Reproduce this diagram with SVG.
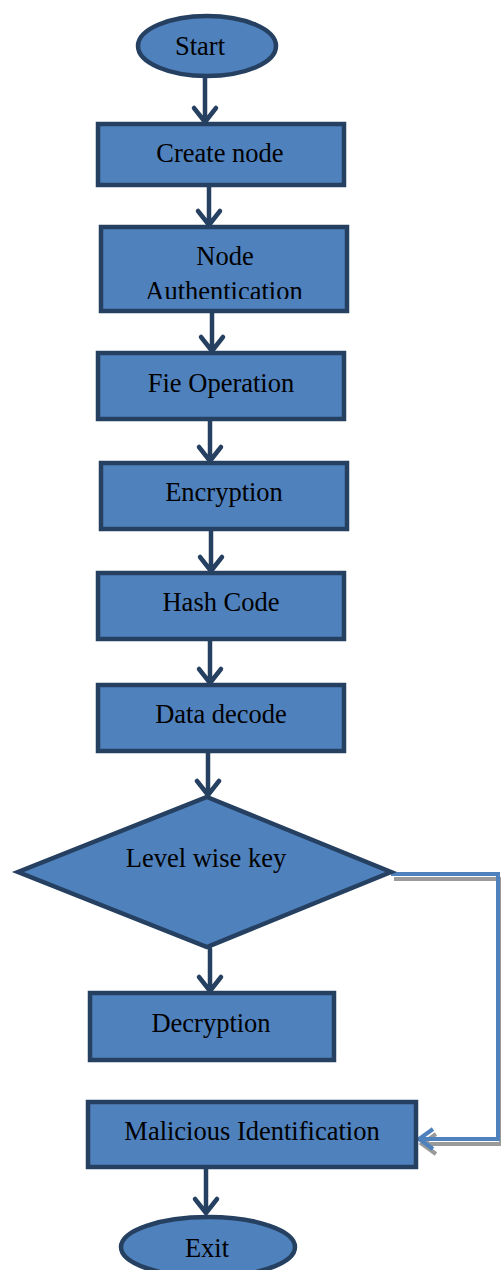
<svg xmlns="http://www.w3.org/2000/svg" width="501" height="1270" viewBox="0 0 501 1270">
<defs>
<style>
.shape{fill:#4F81BD;stroke:#254061;stroke-width:4.5}
.lbl{font-family:"Liberation Serif","Times New Roman",serif;font-size:26.5px;fill:#000;text-anchor:middle}
.arr{fill:none;stroke:#254061;stroke-width:4.5;stroke-linecap:round;stroke-linejoin:round}
</style>
<clipPath id="clipAuth"><rect x="101" y="227" width="246" height="72"/></clipPath>
</defs>
<rect width="501" height="1270" fill="#fff"/>
<g id="connectors">
<path class="arr" d="M205,78V122M194,108L205,122L216,108"/>
<path class="arr" d="M209,187V225M198,211L209,225L220,211"/>
<path class="arr" d="M212,313V351M201,337L212,351L223,337"/>
<path class="arr" d="M210,421V461M199,447L210,461L221,447"/>
<path class="arr" d="M211,531V571M200,557L211,571L222,557"/>
<path class="arr" d="M210,641V683M199,669L210,683L221,669"/>
<path class="arr" d="M208,753V795M197,781L208,795L219,781"/>
<path class="arr" d="M210,949V991M199,977L210,991L221,977"/>
<path class="arr" d="M206,1169V1213M195,1199L206,1213L217,1199"/>
<g id="feedback">
<path d="M393,877H500V1142H421M435,1132L421,1142L435,1152" fill="none" stroke="#9a9a9a" stroke-width="4" transform="translate(1,2)"/>
<path d="M391,874H498V1139H419M433,1129L419,1139L433,1149" fill="none" stroke="#4F81BD" stroke-width="4" stroke-linejoin="miter"/>
</g>
</g>
<g id="start"><ellipse class="shape" cx="207" cy="46" rx="69" ry="30"/><text class="lbl" x="200" y="55">Start</text></g>
<g id="create-node"><rect class="shape" x="98" y="124" width="246" height="61"/><text class="lbl" x="220" y="162">Create node</text></g>
<g id="node-auth"><rect class="shape" x="101" y="227" width="246" height="84"/><text class="lbl" x="225" y="265">Node</text><text class="lbl" x="224" y="300" clip-path="url(#clipAuth)">Authentication</text></g>
<g id="file-op"><rect class="shape" x="98" y="353" width="246" height="66"/><text class="lbl" x="221" y="392">Fie Operation</text></g>
<g id="encryption"><rect class="shape" x="101" y="463" width="246" height="66"/><text class="lbl" x="224" y="501">Encryption</text></g>
<g id="hash-code"><rect class="shape" x="98" y="573" width="246" height="66"/><text class="lbl" x="221" y="611">Hash Code</text></g>
<g id="data-decode"><rect class="shape" x="98" y="685" width="246" height="66"/><text class="lbl" x="221" y="723">Data decode</text></g>
<g id="level-key"><polygon class="shape" points="207,797 391,872 207,947 18,872"/><text class="lbl" x="206" y="867">Level wise key</text></g>
<g id="decryption"><rect class="shape" x="90" y="993" width="244" height="67"/><text class="lbl" x="211" y="1032">Decryption</text></g>
<g id="malicious"><rect class="shape" x="88" y="1102" width="328" height="65"/><text class="lbl" x="252" y="1140">Malicious Identification</text></g>
<g id="exit"><ellipse class="shape" cx="208" cy="1247" rx="87" ry="30"/><text class="lbl" x="207" y="1257">Exit</text></g>
</svg>
